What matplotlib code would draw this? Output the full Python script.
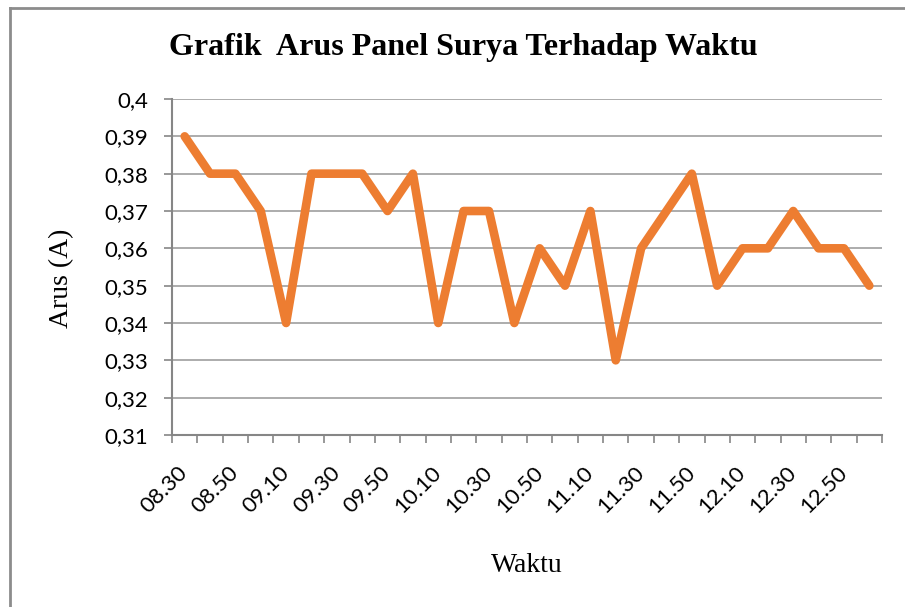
import numpy as np
import matplotlib.pyplot as plt
from matplotlib.ticker import FixedLocator, FuncFormatter

# data
waktu = ['08.30', '08.40', '08.50', '09.00', '09.10', '09.20', '09.30', '09.40',
         '09.50', '10.00', '10.10', '10.20', '10.30', '10.40', '10.50', '11.00',
         '11.10', '11.20', '11.30', '11.40', '11.50', '12.00', '12.10', '12.20',
         '12.30', '12.40', '12.50', '13.00']
arus = [0.39, 0.38, 0.38, 0.37, 0.34, 0.38, 0.38, 0.38, 0.37, 0.38, 0.34, 0.37,
        0.37, 0.34, 0.36, 0.35, 0.37, 0.33, 0.36, 0.37, 0.38, 0.35, 0.36, 0.36,
        0.37, 0.36, 0.36, 0.35]
y_ticks = [0.31, 0.32, 0.33, 0.34, 0.35, 0.36, 0.37, 0.38, 0.39, 0.40]

serif = 'Liberation Serif'
sans = 'Lato'
grey = '#a6a6a6'

fig = plt.figure(figsize=(9.05, 6.07), dpi=100)
ax = fig.add_axes([172 / 905, 1 - 435 / 607, 710 / 905, 336 / 607])

x = np.arange(len(arus))
ax.plot(x, arus, color='#ed7d31', lw=6.2, solid_joinstyle='round',
        solid_capstyle='round', zorder=3)

ax.set_xlim(-0.5, len(arus) - 0.5)
ax.set_ylim(0.31, 0.40)

# y axis
ax.yaxis.set_major_locator(FixedLocator(y_ticks))
ax.yaxis.set_major_formatter(FuncFormatter(
    lambda v, p: ('%.2f' % v).rstrip('0').replace('.', ',')))
ax.grid(axis='y', color=grey, lw=1.3)
ax.set_axisbelow(True)

# x axis: tick marks between categories, labels every second one
ax.xaxis.set_major_locator(FixedLocator(np.arange(-0.5, len(arus), 1)))
ax.xaxis.set_major_formatter(FuncFormatter(lambda v, p: ''))
ax.xaxis.set_minor_locator(FixedLocator(x[::2]))
ax.set_xticklabels([w for w in waktu[::2]], minor=True)
ax.tick_params(axis='x', which='major', length=6, color='#868686', width=1.2)
ax.tick_params(axis='x', which='minor', length=0, pad=25)
ax.tick_params(axis='y', length=6, color='#868686', width=1.2, pad=11)
for lab in ax.get_xticklabels(minor=True):
    lab.set_rotation(45)
    lab.set_rotation_mode('anchor')
    lab.set_ha('right')
    lab.set_va('center')
    lab.set_fontsize(16)
    lab.set_family(sans)
for lab in ax.get_yticklabels():
    lab.set_fontsize(16)
    lab.set_family(sans)

for s in ['top', 'right']:
    ax.spines[s].set_visible(False)
for s in ['left', 'bottom']:
    ax.spines[s].set_color('#868686')
    ax.spines[s].set_linewidth(1.5)

fig.text(463 / 905, 1 - 47 / 607, 'Grafik  Arus Panel Surya Terhadap Waktu',
         family=serif, weight='bold', fontsize=23, ha='center', va='center')
fig.text(62 / 905, 1 - 278 / 607, 'Arus (A)', family=serif, fontsize=20,
         rotation=90, ha='center', va='center')
fig.text(527 / 905, 1 - 565 / 607, 'Waktu', family=serif, fontsize=20,
         ha='center', va='center')

# chart border (only left and top edges are visible in the frame)
fig.add_artist(plt.Line2D([10 / 905, 10 / 905], [0, 1 - 8 / 607],
                          color='#8c8c8c', lw=2, transform=fig.transFigure))
fig.add_artist(plt.Line2D([10 / 905, 1], [1 - 8 / 607, 1 - 8 / 607],
                          color='#8c8c8c', lw=2, transform=fig.transFigure))

fig.savefig('out.png', dpi=100)
